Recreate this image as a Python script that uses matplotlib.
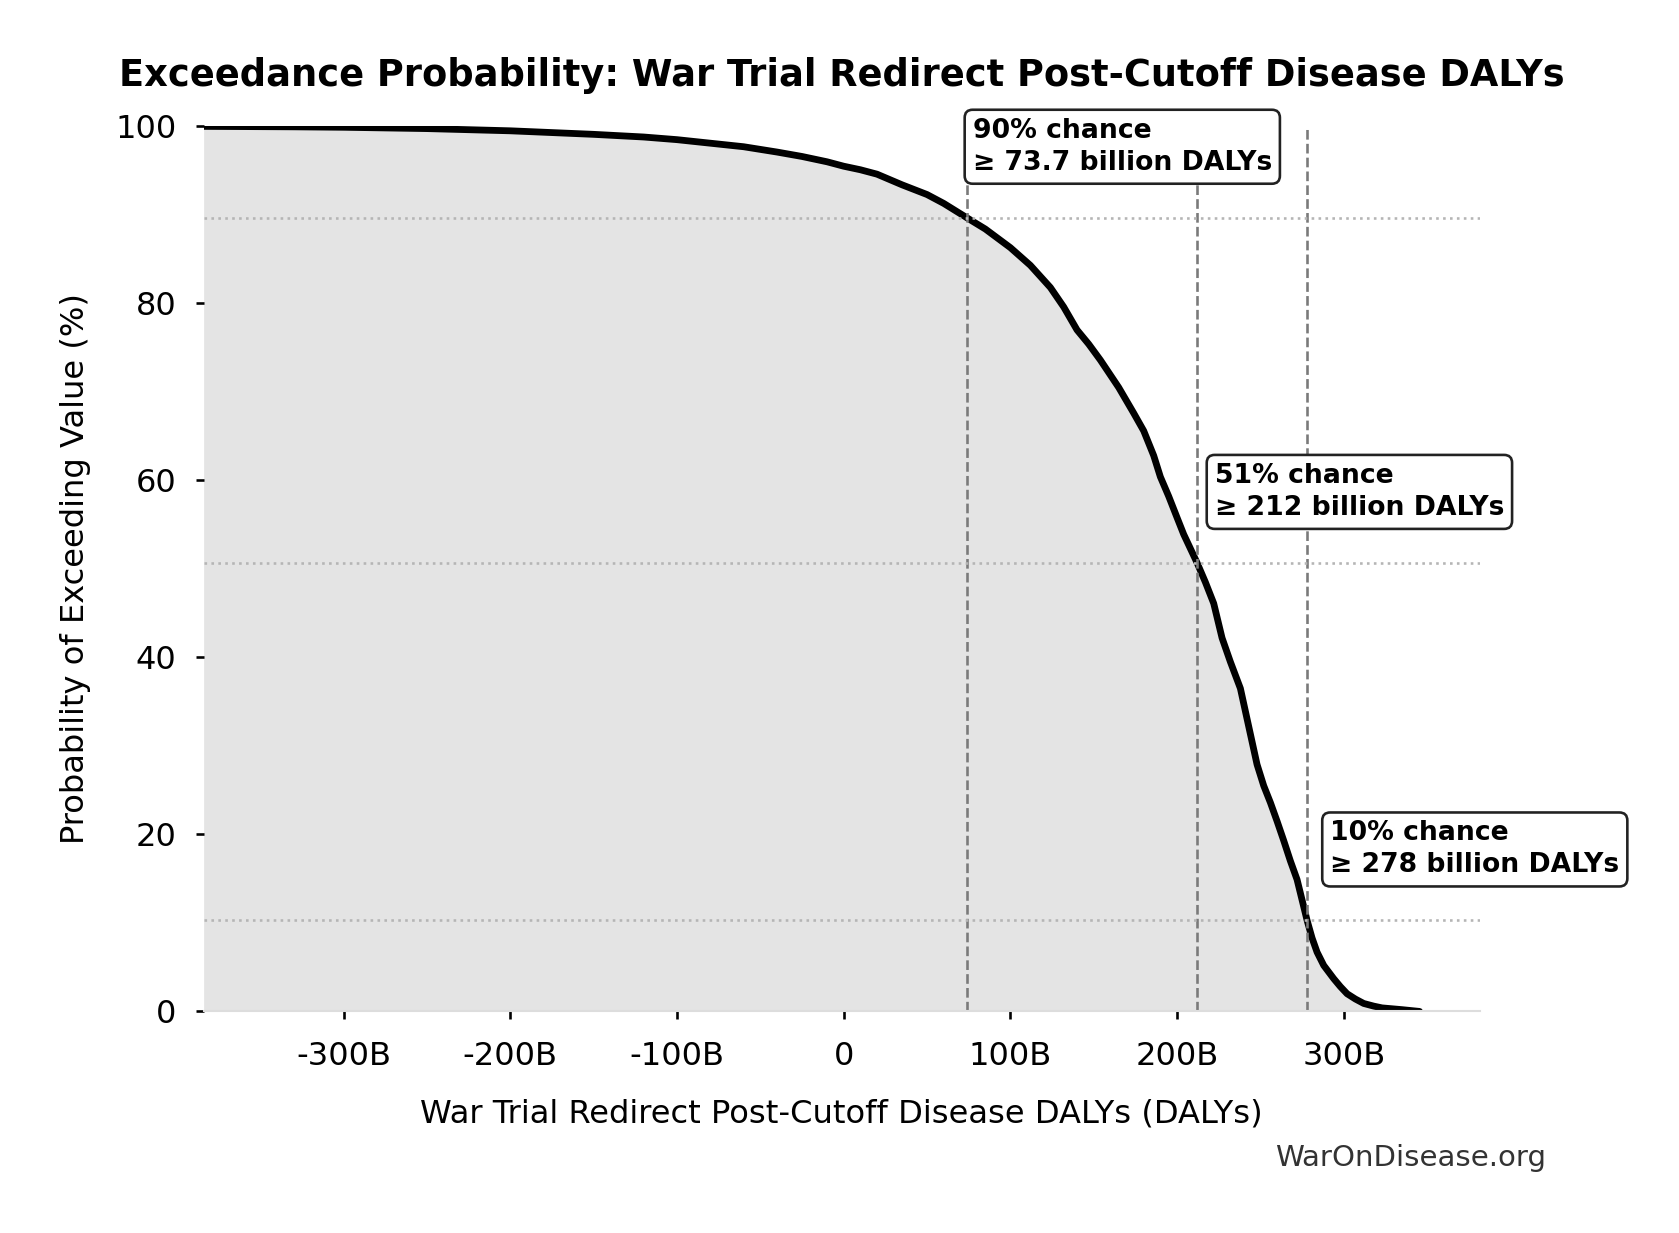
import matplotlib
matplotlib.use('Agg')
from matplotlib import pyplot as plt
from matplotlib.ticker import FuncFormatter

# exceedance curve (x in billions of DALYs, y in %)
value_b = [-384, -330, -300, -250, -200, -175, -150, -120, -100, -80, -60, -40,
           -25, -10, 0, 10, 20, 35, 50, 60, 73.7, 85, 100, 112, 124, 132,
           140, 147, 154, 165, 174, 180, 186, 190, 195, 200, 204, 208, 212,
           217, 222, 227, 232, 238, 243, 248, 252, 256, 260, 264, 268, 272,
           278, 281, 284, 288, 294, 298, 302, 307, 312, 318, 323, 335, 345.5]
exceed_pct = [100, 99.95, 99.9, 99.75, 99.5, 99.3, 99.1, 98.8, 98.5, 98.1, 97.7, 97.1,
              96.6, 96.0, 95.5, 95.1, 94.6, 93.4, 92.3, 91.3, 89.7, 88.4, 86.3, 84.3, 81.8, 79.6,
              77.0, 75.4, 73.6, 70.5, 67.6, 65.6, 62.8, 60.4, 58.2, 55.8, 53.9, 52.3, 50.7,
              48.5, 46.1, 42.2, 39.5, 36.5, 32.2, 27.9, 25.5, 23.6, 21.5, 19.3, 17.0, 14.9,
              10.3, 8.3, 6.7, 5.2, 3.7, 2.8, 2.0, 1.4, 0.9, 0.6, 0.4, 0.2, 0.0]

# marked thresholds
mark_values = [73.7, 212, 278]
mark_probs = [89.7, 50.7, 10.3]
mark_labels = ['90% chance\n≥ 73.7 billion DALYs',
               '51% chance\n≥ 212 billion DALYs',
               '10% chance\n≥ 278 billion DALYs']

title = 'Exceedance Probability: War Trial Redirect Post-Cutoff Disease DALYs'
xlabel = 'War Trial Redirect Post-Cutoff Disease DALYs (DALYs)'
ylabel = 'Probability of Exceeding Value (%)'

DPI = 188
fig = plt.figure(figsize=(1680 / DPI, 1233 / DPI), dpi=DPI)
ax = fig.add_axes([0.1212, 0.1797, 0.7595, 0.7178])

ax.fill_between(value_b, exceed_pct, 0, color='#e4e4e4', linewidth=0)
ax.plot(value_b, exceed_pct, color='black', linewidth=2.6,
        solid_joinstyle='round', solid_capstyle='round')

for v in mark_values:
    ax.axvline(v, color='#7a7a7a', linestyle='--', linewidth=1.0)
for p in mark_probs:
    ax.axhline(p, color='#b5b5b5', linestyle=':', linewidth=1.0)

for v, p, lab in zip(mark_values, mark_probs, mark_labels):
    ax.text(v * 1.05, p + 8, lab, ha='left', va='center', fontsize=10.2,
            fontweight='bold', color='black', linespacing=1.3,
            bbox=dict(boxstyle='round,pad=0.3', facecolor='white',
                      edgecolor='#222222', linewidth=1.0))

ax.set_xlim(-384, 381.5)
ax.set_ylim(0, 100)
ax.set_xticks([-300, -200, -100, 0, 100, 200, 300])
ax.set_yticks([0, 20, 40, 60, 80, 100])
ax.xaxis.set_major_formatter(FuncFormatter(lambda v, pos: '0' if v == 0 else f'{v:.0f}B'))

for side in ['top', 'right', 'left']:
    ax.spines[side].set_visible(False)
ax.spines['bottom'].set_color('#dddddd')
ax.tick_params(axis='both', labelsize=12.3, length=3, width=1, color='black')
ax.tick_params(axis='x', pad=8.5)
ax.tick_params(axis='y', pad=7.5)

ax.set_xlabel(xlabel, fontsize=12.3, labelpad=10)
ax.set_ylabel(ylabel, fontsize=12.3, labelpad=9)
ax.set_title(title, fontsize=14.1, fontweight='bold', pad=15.5)

fig.text(0.92, 0.061, 'WarOnDisease.org', ha='right', va='center',
         fontsize=11.2, color='#333333')

fig.savefig('out.png', dpi=DPI)
